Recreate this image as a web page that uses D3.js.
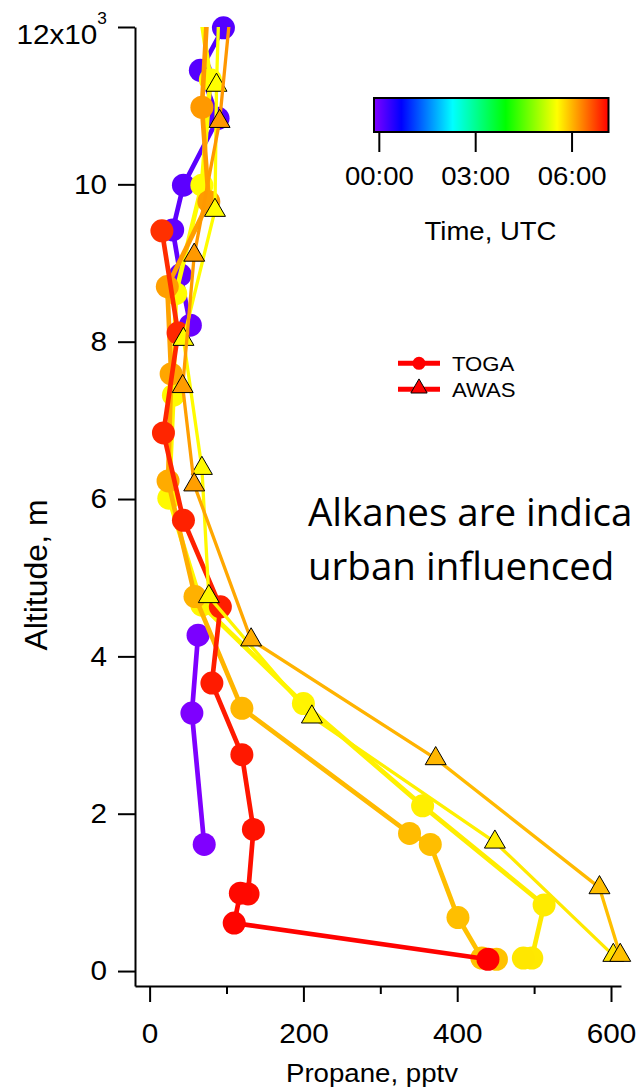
<!DOCTYPE html>
<html><head><meta charset="utf-8">
<script src="https://cdn.jsdelivr.net/npm/d3@7"></script>
<style>body{margin:0;background:#fff;} svg{display:block;}</style>
</head><body>
<svg id="chart" width="640" height="1090"></svg>
<script>
// ---------------- DATA ----------------
// Propane (pptv), altitude (m), sample time (hours UTC) for each profile
const togaPurpleProp = [96, 66, 89, 44, 30, 40, 53, null, 63, 55, 71];
const togaPurpleAlt  = [11990, 11450, 10840, 9990, 9420, 8850, 8210, null, 4270, 3280, 1610];
const togaPurpleTime = [0.14, 0.13, 0.12, 0.09, 0.07, 0.03, 0.0, null, -0.12, -0.14, -0.15];

const togaYellowProp = [66, 79, 68, 34, 31, 25, 68, 200, 355, 513, 497, 486];
const togaYellowAlt  = [12200, 11330, 9990, 8610, 7320, 6010, 4650, 3400, 2100, 840, 165, 165];
const togaYellowTime = [5.55, 5.55, 5.56, 5.57, 5.58, 5.59, 5.6, 5.62, 5.65, 5.67, 5.69, 5.7];

const togaOrangeProp = [451, 432, 401, 365, 338, 120, 59, 24, 28, 23, 77, 68, 75];
const togaOrangeAlt  = [150, 165, 680, 1610, 1750, 3340, 4760, 6230, 7590, 8700, 9780, 10980, 12200];
const togaOrangeTime = [5.93, 5.94, 5.95, 5.96, 5.97, 6.0, 6.04, 6.08, 6.11, 6.15, 6.17, 6.19, 6.2];

const togaRedProp = [16, 37, 18, 44, 92, 81, 120, 135, 128, 118, 110, 440];
const togaRedAlt  = [9410, 8110, 6840, 5730, 4630, 3660, 2750, 1800, 980, 990, 610, 150];
const togaRedTime = [6.85, 6.9, 6.92, 6.94, 6.96, 6.98, 7.0, 7.04, 7.08, 7.1, 7.12, 7.15];

const awasYellowProp = [90, 87, 85, 44, 68, 77, 211, 449, 603];
const awasYellowAlt  = [12200, 11260, 9670, 8030, 6390, 4760, 3230, 1640, 200];
const awasYellowTime = [5.55, 5.55, 5.56, 5.57, 5.58, 5.6, 5.63, 5.66, 5.72];

const awasAmberProp = [105, 91, 58, 43, 58, 132, 372, 585, 612];
const awasAmberAlt  = [12200, 10800, 9100, 7430, 6180, 4210, 2700, 1060, 200];
const awasAmberTime = [6.21, 6.2, 6.19, 6.17, 6.15, 6.06, 6.0, 5.96, 5.94];

// Axis ticks
const altTicks = [0, 2000, 4000, 6000, 8000, 10000, 12000];
const propMajorTicks = [0, 200, 400, 600];
const propMinorTicks = [100, 300, 500];
// Color bar (time in hours UTC)
const timeStops  = [-0.15, 0.7, 2.3, 3.95, 5.55, 7.15];
const timeColors = ["#8000ff", "#0000ff", "#00ffff", "#00ff00", "#ffff00", "#ff0000"];
const colorbarTickValues = [0, 3, 6];
const colorbarTickLabels = ["00:00", "03:00", "06:00"];
const legendLabels = ["TOGA", "AWAS"];
const noteLines = ["Alkanes are indica", "urban influenced"];

// ---------------- DRAWING ----------------
const FONT = "'Liberation Sans', Arial, Helvetica, sans-serif";
const SX = 1.08;
const svg = d3.select("#chart");

const x = d3.scaleLinear().domain([-19, 613]).range([135, 621]);
const y = d3.scaleLinear().domain([-190, 12000]).range([986, 27]);
const color = d3.scaleLinear().domain(timeStops).range(timeColors).interpolate(d3.interpolateRgb).clamp(true);

const defs = svg.append("defs");
defs.append("clipPath").attr("id", "plotclip").append("rect")
  .attr("x", 0).attr("y", 27).attr("width", 640).attr("height", 1063);

function makePts(p, a, t) {
  return p.map((v, i) => ({ p: v, a: a[i], t: t[i] }));
}
const lineGen = d3.line().x(d => x(d.p)).y(d => y(d.a));

const profiles = [
  { pts: makePts(togaPurpleProp, togaPurpleAlt, togaPurpleTime), kind: "toga", lw: 4.7 },
  { pts: makePts(togaYellowProp, togaYellowAlt, togaYellowTime), kind: "toga", lw: 4.7 },
  { pts: makePts(togaOrangeProp, togaOrangeAlt, togaOrangeTime), kind: "toga", lw: 4.7 },
  { pts: makePts(togaRedProp, togaRedAlt, togaRedTime), kind: "toga", lw: 4.7 },
  { pts: makePts(awasYellowProp, awasYellowAlt, awasYellowTime), kind: "awas", lw: 3.3 },
  { pts: makePts(awasAmberProp, awasAmberAlt, awasAmberTime), kind: "awas", lw: 3.3 },
];

const triPath = d3.symbol().type(d3.symbolTriangle).size(190)();
const triLegend = d3.symbol().type(d3.symbolTriangle).size(115)();

const plot = svg.append("g");
profiles.forEach(pr => {
  const g = plot.append("g");
  const lg = g.append("g").attr("clip-path", "url(#plotclip)");
  for (let i = 0; i < pr.pts.length - 1; i++) {
    const a = pr.pts[i], b = pr.pts[i + 1];
    if (a.p == null || b.p == null) continue;
    lg.append("path").attr("d", lineGen([a, b]))
      .attr("fill", "none")
      .attr("stroke", color((a.t + b.t) / 2))
      .attr("stroke-width", pr.lw)
      .attr("stroke-linecap", "round");
  }
  const mk = pr.pts.filter(d => d.p != null && d.a <= 12000);
  if (pr.kind === "toga") {
    g.selectAll("circle.m").data(mk).join("circle")
      .attr("cx", d => x(d.p)).attr("cy", d => y(d.a)).attr("r", 11.5)
      .attr("fill", d => color(d.t));
  } else {
    g.selectAll("path.m").data(mk).join("path")
      .attr("d", triPath)
      .attr("transform", d => `translate(${x(d.p)},${y(d.a)})`)
      .attr("fill", d => color(d.t))
      .attr("stroke", "#000").attr("stroke-width", 1);
  }
});

// Axes
const yAxis = d3.axisLeft(y).tickValues(altTicks).tickSize(17).tickPadding(9).tickSizeOuter(0)
  .tickFormat(d => d / 1000);
const gy = svg.append("g").attr("transform", "translate(135,0)").call(yAxis);
const xAxisMinor = d3.axisBottom(x).tickValues(propMinorTicks).tickSize(8).tickSizeOuter(0).tickFormat("");
const xAxis = d3.axisBottom(x).tickValues(propMajorTicks).tickSize(16).tickPadding(21).tickSizeOuter(0);
const gxm = svg.append("g").attr("transform", "translate(0,986)").call(xAxisMinor);
gxm.select(".domain").remove();
const gx = svg.append("g").attr("transform", "translate(0,986)").call(xAxis);

[gy, gx, gxm].forEach(g => {
  g.attr("color", "#000");
  g.selectAll("path.domain").attr("stroke-width", 2);
  g.selectAll(".tick line").attr("stroke-width", 2);
  g.selectAll(".tick text").attr("font-family", FONT).attr("font-size", 27.5)
    .attr("fill", "#000").attr("transform", `scale(${SX},1)`);
});
// 12x10^3 label
gy.selectAll(".tick text").filter(d => d === 12000).each(function () {
  const t = d3.select(this);
  t.text(null).attr("dy", 16);
  t.append("tspan").text("12x10");
  t.append("tspan").attr("font-size", 16).attr("dy", -20).text("3");
});

// Axis titles
svg.append("text").attr("transform", `translate(372,1082) scale(${SX},1)`)
  .attr("text-anchor", "middle").attr("font-family", FONT).attr("font-size", 25.6)
  .text("Propane, pptv");
svg.append("text").attr("transform", "translate(47,575) rotate(-90)")
  .attr("text-anchor", "middle").attr("font-family", FONT).attr("font-size", 32)
  .text("Altitude, m");

// Color bar
const cb = d3.scaleLinear().domain([timeStops[0], timeStops[timeStops.length - 1]]).range([374, 608.5]);
const grad = defs.append("linearGradient").attr("id", "cbgrad")
  .attr("x1", "0%").attr("x2", "100%").attr("y1", "0%").attr("y2", "0%");
timeStops.forEach((s, i) => {
  grad.append("stop")
    .attr("offset", ((s - timeStops[0]) / (timeStops[timeStops.length - 1] - timeStops[0]) * 100) + "%")
    .attr("stop-color", timeColors[i]);
});
svg.append("rect").attr("x", cb.range()[0]).attr("y", 98)
  .attr("width", cb.range()[1] - cb.range()[0]).attr("height", 34)
  .attr("fill", "url(#cbgrad)").attr("stroke", "#000").attr("stroke-width", 2);
const cbAxis = d3.axisBottom(cb).tickValues(colorbarTickValues).tickSize(20).tickPadding(15)
  .tickSizeOuter(0).tickFormat((d, i) => colorbarTickLabels[i]);
const gcb = svg.append("g").attr("transform", "translate(0,132)").call(cbAxis);
gcb.select(".domain").remove();
gcb.attr("color", "#000");
gcb.selectAll(".tick line").attr("stroke-width", 2);
gcb.selectAll(".tick text").attr("font-family", FONT).attr("font-size", 25.5).attr("fill", "#000")
  .attr("transform", `scale(${SX},1)`);
svg.append("text").attr("transform", `translate(490.5,240) scale(${SX},1)`)
  .attr("text-anchor", "middle").attr("font-family", FONT).attr("font-size", 25.5)
  .text("Time, UTC");

// Legend
const legend = svg.append("g");
const legY = [363.3, 389.3];
legendLabels.forEach((lab, i) => {
  const gl = legend.append("g");
  gl.append("line").attr("x1", 398).attr("x2", 440).attr("y1", legY[i]).attr("y2", legY[i])
    .attr("stroke", "#ff0000").attr("stroke-width", 5);
  if (i === 0) {
    gl.append("circle").attr("cx", 419).attr("cy", legY[i]).attr("r", 6.5).attr("fill", "#ff0000");
  } else {
    gl.append("path").attr("d", triLegend).attr("transform", `translate(419,${legY[i] - 1})`)
      .attr("fill", "#ff0000").attr("stroke", "#000").attr("stroke-width", 1);
  }
  gl.append("text").attr("transform", `translate(452,${legY[i] + 7.3}) scale(${SX},1)`)
    .attr("font-family", FONT).attr("font-size", 20.5).text(lab);
});

// Annotation
const noteY = [526, 580];
noteLines.forEach((s, i) => {
  svg.append("text").attr("x", 308).attr("y", noteY[i])
    .attr("font-family", "'Open Sans', 'Noto Sans', sans-serif").attr("font-size", 38.5)
    .attr("fill", "#000").text(s);
});
</script>
</body></html>
